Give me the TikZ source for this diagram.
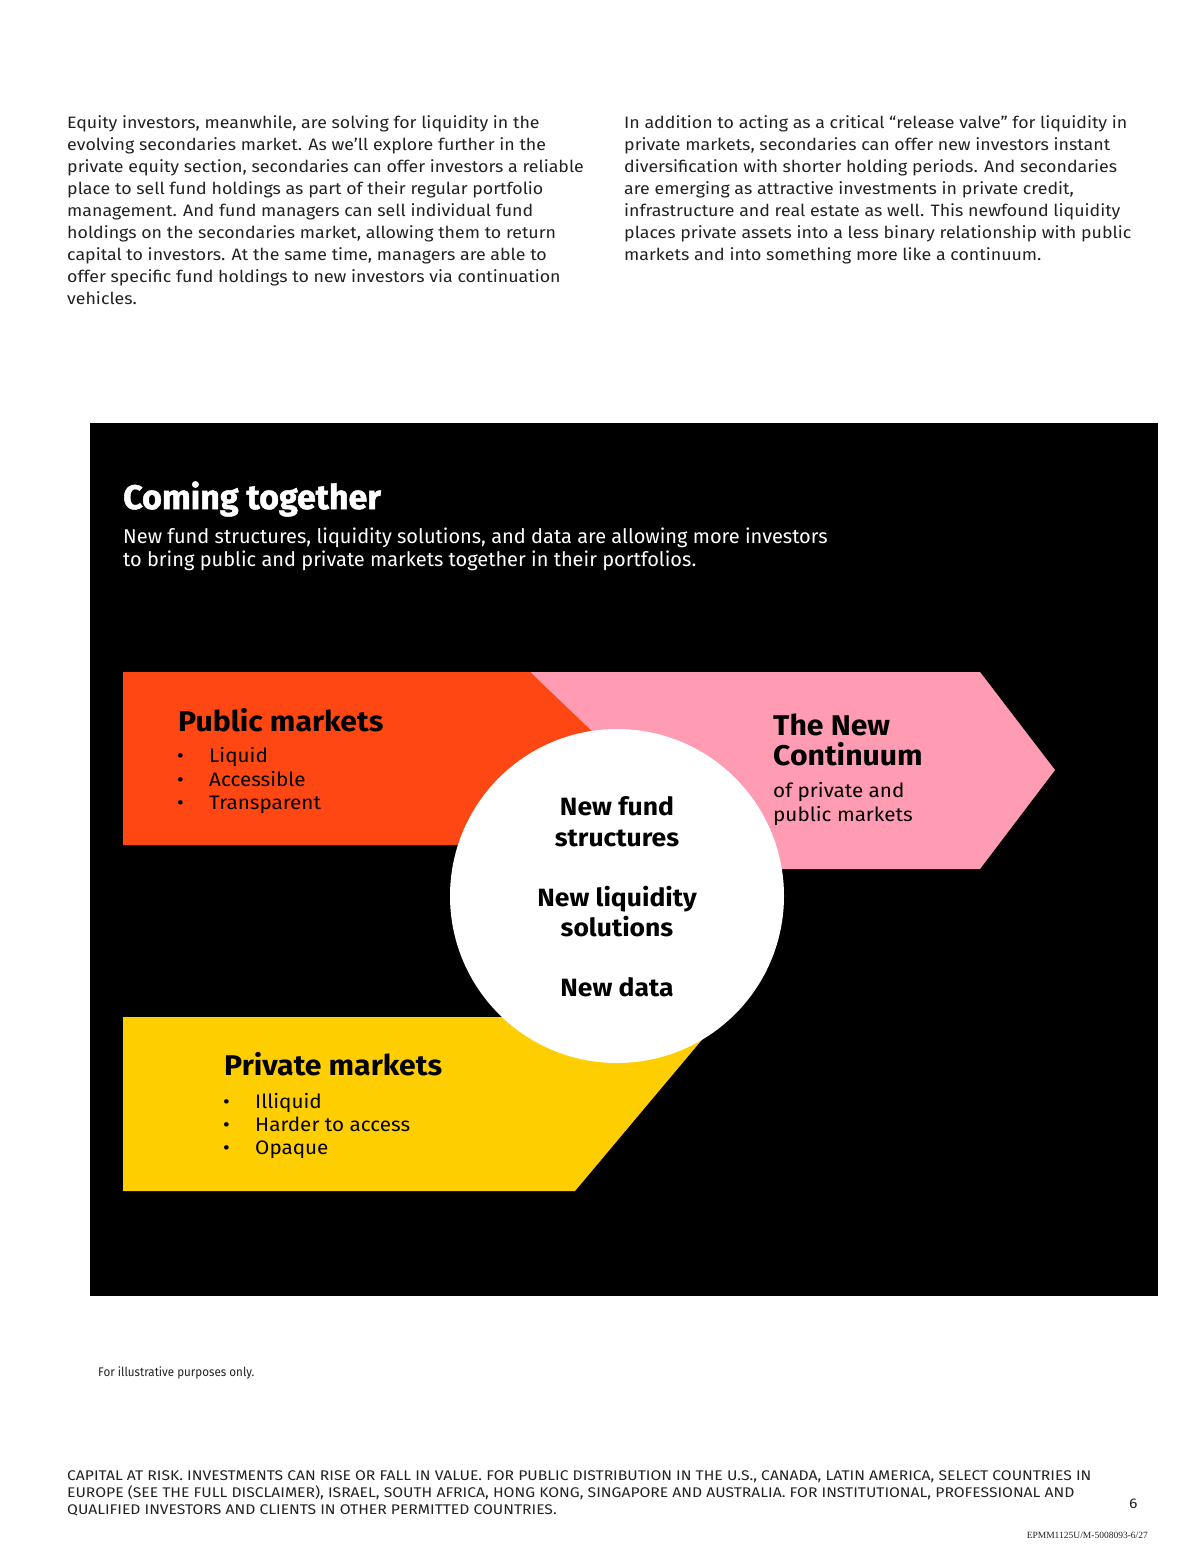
\documentclass[tikz,border=0pt]{standalone}
\usepackage{fontspec}
\setmainfont{Fira Sans}
\newfontfamily\bodyfont[FakeStretch=1.078]{Fira Sans}
\newfontfamily\wideb[FakeStretch=1.06]{Fira Sans}
\newfontfamily\heavyfont[BoldFeatures={FakeBold=1.5}]{Fira Sans}
\newfontfamily\condfont[FakeStretch=1.12]{Fira Sans}
\newfontfamily\fnfont[FakeStretch=0.93]{Fira Sans}
\newfontfamily\serifsmall{Liberation Serif}
\definecolor{orng}{RGB}{255,71,19}
\definecolor{pnk}{RGB}{255,155,178}
\definecolor{ylw}{RGB}{255,206,0}
\definecolor{bodytxt}{RGB}{34,34,34}
\tikzset{
  bodyline/.style={anchor=base west, inner sep=0pt, text=bodytxt, font=\bodyfont\fontsize{16.5}{22}\selectfont},
  subline/.style={anchor=base west, inner sep=0pt, text=white, font=\fontsize{20}{23}\selectfont},
  headw/.style={anchor=base west, inner sep=0pt, text=white, font=\heavyfont\fontsize{34}{40}\bfseries\selectfont},
  panelhead/.style={anchor=base west, inner sep=0pt, text=black, font=\wideb\fontsize{28.5}{30}\bfseries\selectfont},
  panelitem/.style={anchor=base west, inner sep=0pt, text=black, font=\wideb\fontsize{19.5}{23}\selectfont},
  circtext/.style={anchor=base, inner sep=0pt, text=black, font=\wideb\fontsize{25}{30}\bfseries\selectfont},
  disc/.style={anchor=base west, inner sep=0pt, text=bodytxt, font=\condfont\fontsize{14}{17}\selectfont},
}
\begin{document}
\begin{tikzpicture}[x=1pt,y=-1pt]
\useasboundingbox (0,0) rectangle (1200,1551);
\fill[white] (0,0) rectangle (1200,1551);
% body text left
\node[bodyline] (l1) at (67,128) {Equity investors, meanwhile, are solving for liquidity in the};
\node[bodyline] (l2) at (67,150) {evolving secondaries market. As we’ll explore further in the};
\node[bodyline] (l3) at (67,172) {private equity section, secondaries can offer investors a reliable};
\node[bodyline] (l4) at (67,194) {place to sell fund holdings as part of their regular portfolio};
\node[bodyline] (l5) at (67,216) {management. And fund managers can sell individual fund};
\node[bodyline] (l6) at (67,238) {holdings on the secondaries market, allowing them to return};
\node[bodyline] (l7) at (67,260) {capital to investors. At the same time, managers are able to};
\node[bodyline] (l8) at (67,282) {offer specific fund holdings to new investors via continuation};
\node[bodyline] (l9) at (67,304) {vehicles.};
% body text right
\node[bodyline] (r1) at (624,128) {In addition to acting as a critical “release valve” for liquidity in};
\node[bodyline] (r2) at (624,150) {private markets, secondaries can offer new investors instant};
\node[bodyline] (r3) at (624,172) {diversification with shorter holding periods. And secondaries};
\node[bodyline] (r4) at (624,194) {are emerging as attractive investments in private credit,};
\node[bodyline] (r5) at (624,216) {infrastructure and real estate as well. This newfound liquidity};
\node[bodyline] (r6) at (624,238) {places private assets into a less binary relationship with public};
\node[bodyline] (r7) at (624,260) {markets and into something more like a continuum.};
% black panel
\fill[black] (90,423) rectangle (1158,1296);
\node[headw] (title) at (123,509) {Coming together};
\node[subline] (s1) at (123,543) {New fund structures, liquidity solutions, and data are allowing more investors};
\node[subline] (s2) at (123,566) {to bring public and private markets together in their portfolios.};
% shapes
\fill[pnk] (530,672) -- (980,672) -- (1055,770) -- (980,869) -- (560,869) -- (620,770) -- cycle;
\fill[orng] (123,672) -- (530,672) -- (620,758) -- (530,845) -- (123,845) -- cycle;
\fill[ylw] (123,1017) -- (721,1017) -- (575,1191) -- (123,1191) -- cycle;
\fill[white] (617,896) circle (167);
% public markets
\node[panelhead] (pubh) at (178,731) {Public markets};
\node[panelitem] (pb1) at (177,762) {•};
\node[panelitem] (pi1) at (209,762) {Liquid};
\node[panelitem] (pb2) at (177,786) {•};
\node[panelitem] (pi2) at (209,786) {Accessible};
\node[panelitem] (pb3) at (177,809) {•};
\node[panelitem] (pi3) at (209,809) {Transparent};
% new continuum
\node[panelhead] (nc1) at (773,735) {The New};
\node[panelhead] (nc2) at (773,765) {Continuum};
\node[panelitem] (nc3) at (773,797) {of private and};
\node[panelitem] (nc4) at (773,821) {public markets};
% circle text
\node[circtext] (c1) at (617,815) {New fund};
\node[circtext] (c2) at (617,846) {structures};
\node[circtext] (c3) at (617,906) {New liquidity};
\node[circtext] (c4) at (617,936) {solutions};
\node[circtext] (c5) at (617,996) {New data};
% private markets
\node[panelhead] (prh) at (224,1075) {Private markets};
\node[panelitem] (qb1) at (223,1108) {•};
\node[panelitem] (qi1) at (255,1108) {Illiquid};
\node[panelitem] (qb2) at (223,1131) {•};
\node[panelitem] (qi2) at (255,1131) {Harder to access};
\node[panelitem] (qb3) at (223,1154) {•};
\node[panelitem] (qi3) at (255,1154) {Opaque};
% footer
\node[anchor=base west, inner sep=0pt, text=bodytxt, font=\fnfont\fontsize{12.5}{15}\selectfont] (fn) at (98,1376) {For illustrative purposes only.};
\node[disc] (d1) at (67,1480) {CAPITAL AT RISK. INVESTMENTS CAN RISE OR FALL IN VALUE. FOR PUBLIC DISTRIBUTION IN THE U.S., CANADA, LATIN AMERICA, SELECT COUNTRIES IN};
\node[disc] (d2) at (67,1497) {EUROPE (SEE THE FULL DISCLAIMER), ISRAEL, SOUTH AFRICA, HONG KONG, SINGAPORE AND AUSTRALIA. FOR INSTITUTIONAL, PROFESSIONAL AND};
\node[disc] (d3) at (67,1514) {QUALIFIED INVESTORS AND CLIENTS IN OTHER PERMITTED COUNTRIES.};
\node[disc] (pg) at (1129,1508) {6};
\node[anchor=base east, inner sep=0pt, text=bodytxt, font=\serifsmall\fontsize{9.5}{10}\selectfont] (code) at (1148,1538) {EPMM1125U/M-5008093-6/27};
\end{tikzpicture}
\end{document}
